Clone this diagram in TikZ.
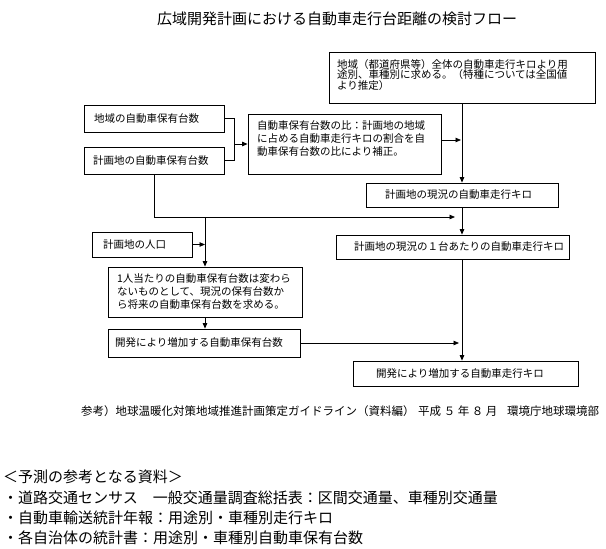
\documentclass[tikz,border=0pt]{standalone}
\usepackage{fontspec}
\setmainfont{Noto Sans CJK JP}
\usetikzlibrary{arrows.meta}
\newcommand{\boxfont}{\fontsize{10.5}{13}\selectfont}
\newcommand{\tightfont}{\fontsize{10.5}{10.3}\selectfont}
\begin{document}
\begin{tikzpicture}[x=1pt,y=-1pt,
  bx/.style={draw, line width=0.8pt, inner ysep=0pt, align=left, font=\boxfont},
  arr/.style={line width=0.8pt, -{Triangle[length=5.5pt,width=4.5pt]}},
  ln/.style={line width=0.8pt},
  big/.style={font=\fontsize{15}{18}\selectfont, inner sep=0pt, anchor=west}]
\fill[white] (0,0) rectangle (606,549);
\useasboundingbox (0,0) rectangle (606,549);

% title
\node[big] (title) at (157,19) {広域開発計画における自動車走行台距離の検討フロー};

% boxes
\node[bx, font=\tightfont, text width=250pt, inner xsep=8pt, minimum height=51pt] (A) at (462,77.5)
  {地域（都道府県等）全体の自動車走行キロより用\\途別、車種別に求める。（特種については全国値\\より推定）\rule[-6pt]{0pt}{0pt}};
\node[bx, text width=120pt, inner xsep=10pt, minimum height=27pt] (B1) at (154,118.5) {地域の自動車保有台数};
\node[bx, text width=122pt, inner xsep=9pt, minimum height=27pt] (B2) at (154,160.5) {計画地の自動車保有台数};
\node[bx, text width=175pt, inner xsep=9pt, minimum height=60pt] (C) at (344.5,144)
  {自動車保有台数の比：計画地の地域\\に占める自動車走行キロの割合を自\\動車保有台数の比により補正。\rule[-11pt]{0pt}{0pt}};
\node[bx, text width=154pt, inner xsep=19pt, minimum height=24pt] (D) at (462,195) {計画地の現況の自動車走行キロ};
\node[bx, text width=197pt, inner xsep=18pt, minimum height=24pt] (E) at (452.5,247) {計画地の現況の１台あたりの自動車走行キロ};
\node[bx, text width=78pt, inner xsep=11pt, minimum height=25pt] (P) at (142,244.5) {計画地の人口};
\node[bx, text width=176pt, inner xsep=9pt, minimum height=50pt] (F) at (205,292)
  {1人当たりの自動車保有台数は変わら\\ないものとして、現況の保有台数か\\ら将来の自動車保有台数を求める。};
\node[bx, text width=178pt, inner xsep=7pt, minimum height=28pt] (G) at (204,343) {開発により増加する自動車保有台数};
\node[bx, text width=179pt, inner xsep=23pt, minimum height=25pt] (H) at (465.5,373.5) {開発により増加する自動車走行キロ};

% junction coordinates
\coordinate (j1) at (234,144);
\coordinate (j2) at (461,140);
\coordinate (j4) at (455,217);
\coordinate (j5) at (205,217);
\coordinate (j6) at (459,343);

% connectors
\draw[ln] (B1.east) -| (j1);
\draw[ln] (B2.east) -| (j1);
\draw[arr] (j1) -- (C.west);
\draw[arr] (A.south) -- (D.north);
\draw[arr] (C.east |- j2) -- (j2);
\draw[arr] (D.south) -- (D.south |- E.north);
\draw[arr] (B2.south) |- (j4);
\draw[arr] (j5) -- (F.north);
\draw[arr] (P.east) -- (P.east -| F.north);
\draw[arr] (F.south) -- (F.south |- G.north);
\draw[arr] (G.east) -- (j6);
\draw[arr] (E.south -| D.south) -- (D.south |- H.north);

% reference line
\node[font=\fontsize{11.5}{13}\selectfont, inner sep=0pt, anchor=west] (ref) at (81,411)
  {\makebox[337pt][l]{参考）地球温暖化対策地域推進計画策定ガイドライン（資料編）}\makebox[89pt][l]{平成 ５ 年 ８ 月}環境庁地球環境部};

% notes
\node[big] (n0) at (3,477) {＜予測の参考となる資料＞};
\node[big] (n1) at (3,498) {・道路交通センサス　一般交通量調査総括表：区間交通量、車種別交通量};
\node[big] (n2) at (3,518) {・自動車輸送統計年報：用途別・車種別走行キロ};
\node[big] (n3) at (3,538) {・各自治体の統計書：用途別・車種別自動車保有台数};
\end{tikzpicture}
\end{document}
